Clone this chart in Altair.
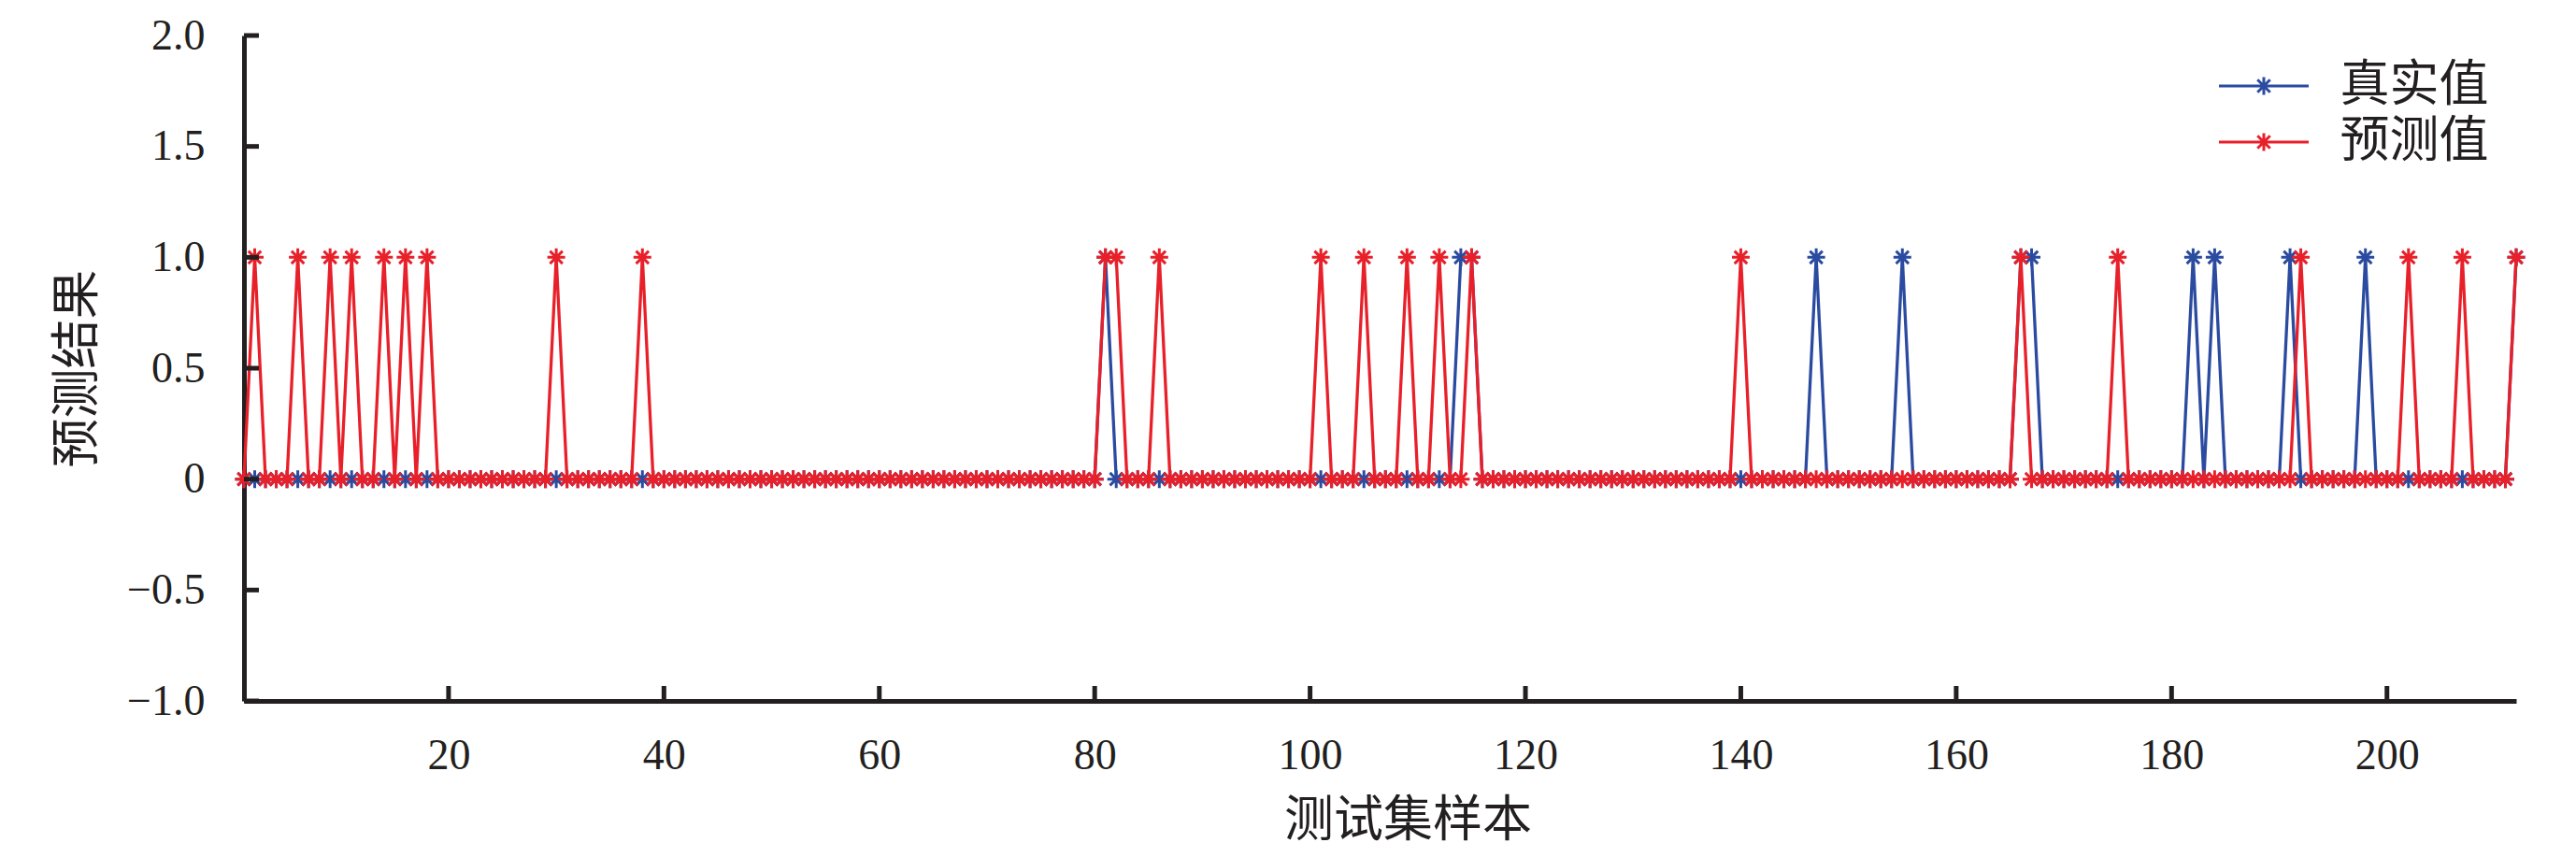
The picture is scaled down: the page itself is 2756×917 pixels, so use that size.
import altair as alt
import pandas as pd

# sample index (测试集样本)
sample_idx = list(range(1, 213))

# 真实值 (true values), 10 per row
true_vals = [
    0, 0, 0, 0, 0, 0, 0, 0, 0, 0,   # 1-10
    0, 0, 0, 0, 0, 0, 0, 0, 0, 0,   # 11-20
    0, 0, 0, 0, 0, 0, 0, 0, 0, 0,   # 21-30
    0, 0, 0, 0, 0, 0, 0, 0, 0, 0,   # 31-40
    0, 0, 0, 0, 0, 0, 0, 0, 0, 0,   # 41-50
    0, 0, 0, 0, 0, 0, 0, 0, 0, 0,   # 51-60
    0, 0, 0, 0, 0, 0, 0, 0, 0, 0,   # 61-70
    0, 0, 0, 0, 0, 0, 0, 0, 0, 0,   # 71-80
    1, 0, 0, 0, 0, 0, 0, 0, 0, 0,   # 81-90
    0, 0, 0, 0, 0, 0, 0, 0, 0, 0,   # 91-100
    0, 0, 0, 0, 0, 0, 0, 0, 0, 0,   # 101-110
    0, 0, 0, 1, 1, 0, 0, 0, 0, 0,   # 111-120
    0, 0, 0, 0, 0, 0, 0, 0, 0, 0,   # 121-130
    0, 0, 0, 0, 0, 0, 0, 0, 0, 0,   # 131-140
    0, 0, 0, 0, 0, 0, 1, 0, 0, 0,   # 141-150
    0, 0, 0, 0, 1, 0, 0, 0, 0, 0,   # 151-160
    0, 0, 0, 0, 0, 1, 1, 0, 0, 0,   # 161-170
    0, 0, 0, 0, 0, 0, 0, 0, 0, 0,   # 171-180
    0, 1, 0, 1, 0, 0, 0, 0, 0, 0,   # 181-190
    1, 0, 0, 0, 0, 0, 0, 1, 0, 0,   # 191-200
    0, 0, 0, 0, 0, 0, 0, 0, 0, 0,   # 201-210
    0, 1,                           # 211-212
]

# 预测值 (predicted values)
pred_vals = [
    0, 1, 0, 0, 0, 1, 0, 0, 1, 0,   # 1-10
    1, 0, 0, 1, 0, 1, 0, 1, 0, 0,   # 11-20
    0, 0, 0, 0, 0, 0, 0, 0, 0, 1,   # 21-30
    0, 0, 0, 0, 0, 0, 0, 1, 0, 0,   # 31-40
    0, 0, 0, 0, 0, 0, 0, 0, 0, 0,   # 41-50
    0, 0, 0, 0, 0, 0, 0, 0, 0, 0,   # 51-60
    0, 0, 0, 0, 0, 0, 0, 0, 0, 0,   # 61-70
    0, 0, 0, 0, 0, 0, 0, 0, 0, 0,   # 71-80
    1, 1, 0, 0, 0, 1, 0, 0, 0, 0,   # 81-90
    0, 0, 0, 0, 0, 0, 0, 0, 0, 0,   # 91-100
    1, 0, 0, 0, 1, 0, 0, 0, 1, 0,   # 101-110
    0, 1, 0, 0, 1, 0, 0, 0, 0, 0,   # 111-120
    0, 0, 0, 0, 0, 0, 0, 0, 0, 0,   # 121-130
    0, 0, 0, 0, 0, 0, 0, 0, 0, 1,   # 131-140
    0, 0, 0, 0, 0, 0, 0, 0, 0, 0,   # 141-150
    0, 0, 0, 0, 0, 0, 0, 0, 0, 0,   # 151-160
    0, 0, 0, 0, 0, 1, 0, 0, 0, 0,   # 161-170
    0, 0, 0, 0, 1, 0, 0, 0, 0, 0,   # 171-180
    0, 0, 0, 0, 0, 0, 0, 0, 0, 0,   # 181-190
    0, 1, 0, 0, 0, 0, 0, 0, 0, 0,   # 191-200
    0, 1, 0, 0, 0, 0, 1, 0, 0, 0,   # 201-210
    0, 1,                           # 211-212
]

series_names = ["真实值", "预测值"]
series_colors = ["#2B4BA0", "#E8202A"]

x_tick_values = [20, 40, 60, 80, 100, 120, 140, 160, 180, 200]
y_tick_values = [-1.0, -0.5, 0.0, 0.5, 1.0, 1.5, 2.0]

x_title = "测试集样本"
y_title = "预测结果"

# ---- data tables ----
df_true = pd.DataFrame({"x": sample_idx, "y": true_vals, "series": series_names[0]})
df_pred = pd.DataFrame({"x": sample_idx, "y": pred_vals, "series": series_names[1]})
df_yticks = pd.DataFrame({"y": y_tick_values})
df_xticks = pd.DataFrame({"x": x_tick_values})

W, H = 2431, 712
INK = "#231F20"
NUM_FONT = "Liberation Serif"
CJK_FONT = "Liberation Serif, Noto Sans CJK SC"

STAR = "M0,-1L0,1M-1,0L1,0M-0.71,-0.71L0.71,0.71M-0.71,0.71L0.71,-0.71"
LEGEND_SYM = "M-5.05,0L5.05,0" + STAR

x_scale = alt.Scale(domain=[1, 212], nice=False, zero=False)
y_scale = alt.Scale(domain=[-1, 2], nice=False, zero=False)

x_axis = alt.Axis(
    title=x_title, values=x_tick_values, format="d", grid=False,
    tickSize=0, labelFont=NUM_FONT, labelFontSize=46, labelColor=INK,
    labelPadding=36, domainColor=INK, domainWidth=5,
    titleFont=CJK_FONT, titleFontSize=53, titleFontWeight="normal",
    titleColor=INK, titleX=1245, titleY=128, titleBaseline="middle",
    titleAlign="center", labelFlush=False,
)
y_axis = alt.Axis(
    title=y_title, values=y_tick_values, grid=False, tickSize=0,
    labelExpr="datum.value == 0 ? '0' : format(datum.value, '.1f')",
    labelFont=NUM_FONT, labelFontSize=46, labelColor=INK, labelPadding=42,
    domainColor=INK, domainWidth=5, labelFlush=False,
    titleFont=CJK_FONT, titleFontSize=53, titleFontWeight="normal",
    titleColor=INK, titleX=-178, titleY=H / 2, titleAngle=270,
    titleBaseline="middle", titleAlign="center",
)

color_enc = alt.Color(
    "series:N",
    scale=alt.Scale(domain=series_names, range=series_colors),
    legend=alt.Legend(
        title=None, orient="none", legendX=2134.5, legendY=27.5,
        symbolType=LEGEND_SYM, symbolSize=361, symbolStrokeWidth=3,
        symbolFillColor="transparent", labelFont=CJK_FONT,
        labelFontSize=53, labelColor=INK, labelOffset=55, labelLimit=400,
        rowPadding=6, padding=0,
    ),
)

X = alt.X("x:Q", scale=x_scale, axis=x_axis)
Y = alt.Y("y:Q", scale=y_scale, axis=y_axis)


def series_layers(df):
    base = alt.Chart(df).encode(x=X, y=Y, color=color_enc)
    line = base.mark_line(strokeWidth=3.3)
    pts = base.mark_point(shape=STAR, size=361, filled=False, strokeWidth=3, opacity=1)
    return [line, pts]


y_ticks = alt.Chart(df_yticks).mark_rule(color=INK, strokeWidth=5).encode(
    y=Y, x=alt.value(0), x2=alt.value(16)
)
x_ticks = alt.Chart(df_xticks).mark_rule(color=INK, strokeWidth=5).encode(
    x=X, y=alt.value(H - 16), y2=alt.value(H)
)

chart = alt.layer(
    *series_layers(df_true), *series_layers(df_pred), y_ticks, x_ticks
).properties(
    width=W, height=H,
    autosize=alt.AutoSizeParams(type="none"),
    padding={"left": 253, "top": 30, "right": 40, "bottom": 158},
    background="white",
).configure_view(stroke=None)

chart.save("out.html", embed_options={"renderer": "svg", "actions": False})
